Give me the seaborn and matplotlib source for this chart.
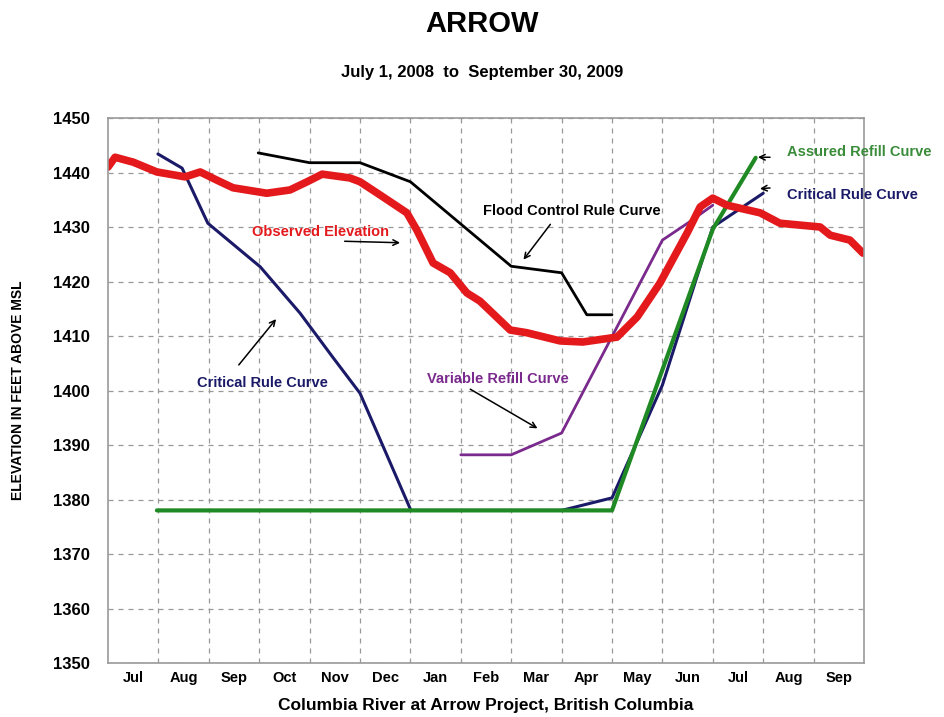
import matplotlib
matplotlib.use("Agg")
import matplotlib.pyplot as plt
import seaborn as sns

# x positions are months since July 1, 2008 (1.0 = Aug 1, 2008 ... 15.0 = Oct 1, 2009)
MONTHS = ["Jul", "Aug", "Sep", "Oct", "Nov", "Dec", "Jan", "Feb",
          "Mar", "Apr", "May", "Jun", "Jul", "Aug", "Sep"]

obs_x = [0.0, 0.14, 0.5, 0.97, 1.53, 1.83, 2.16, 2.48, 3.15, 3.61, 3.95,
         4.25, 4.8, 5.0, 5.46, 5.93, 6.13, 6.45, 6.79, 7.12, 7.38, 7.98,
         8.31, 8.97, 9.42, 10.1, 10.5, 10.95, 11.49, 11.75, 12.0, 12.28,
         12.94, 13.33, 14.13, 14.33, 14.72, 14.98]
obs_y = [1441.0, 1442.8, 1441.9, 1440.1, 1439.2, 1440.1, 1438.6, 1437.2,
         1436.2, 1436.8, 1438.3, 1439.7, 1439.0, 1438.3, 1435.5, 1432.6,
         1429.4, 1423.4, 1421.6, 1417.9, 1416.4, 1411.1, 1410.6, 1409.1,
         1408.9, 1409.8, 1413.5, 1419.7, 1428.9, 1433.7, 1435.3, 1434.0,
         1432.6, 1430.7, 1430.0, 1428.5, 1427.6, 1425.2]

flood_x = [2.98, 4.0, 5.0, 6.0, 8.0, 9.0, 9.5, 10.0]
flood_y = [1443.6, 1441.8, 1441.8, 1438.3, 1422.8, 1421.6, 1413.9, 1413.9]

crit_x = [0.99, 1.47, 1.98, 3.02, 3.81, 4.46, 5.0, 6.01, 9.0, 10.0, 11.0, 12.0, 13.0]
crit_y = [1443.4, 1440.8, 1430.7, 1422.7, 1414.2, 1406.1, 1399.5, 1378.0,
          1378.0, 1380.3, 1401.0, 1430.0, 1436.2]

var_x = [7.0, 8.0, 9.0, 11.0, 11.5, 12.0]
var_y = [1388.2, 1388.2, 1392.2, 1427.6, 1430.7, 1434.0]

assured_x = [0.97, 10.0, 12.0, 12.85]
assured_y = [1378.0, 1378.0, 1429.6, 1442.7]

RED = "#e4191c"
NAVY = "#1b1a68"
PURPLE = "#7a2a8c"
GREEN = "#1f8a24"

sns.set_style("white")
plt.rcParams["font.family"] = ["Liberation Sans", "DejaVu Sans"]
plt.rcParams["font.weight"] = "bold"
plt.rcParams["text.color"] = "black"
plt.rcParams["axes.labelcolor"] = "black"
plt.rcParams["xtick.color"] = "black"
plt.rcParams["ytick.color"] = "black"

fig = plt.figure(figsize=(9.45, 7.17), dpi=100)
ax = fig.add_axes([0.1143, 0.0753, 0.8, 0.7601])

sns.lineplot(x=crit_x, y=crit_y, color=NAVY, lw=2.2, ax=ax, sort=False, estimator=None)
sns.lineplot(x=assured_x, y=assured_y, color=GREEN, lw=3, ax=ax, sort=False, estimator=None)
sns.lineplot(x=var_x, y=var_y, color=PURPLE, lw=2, ax=ax, sort=False, estimator=None)
sns.lineplot(x=flood_x, y=flood_y, color="black", lw=2, ax=ax, sort=False, estimator=None)
sns.lineplot(x=obs_x, y=obs_y, color=RED, lw=5.5, ax=ax, sort=False, estimator=None)

ax.set_xlim(0, 15)
ax.set_ylim(1350, 1450)
ax.set_yticks(range(1350, 1451, 10))
ax.set_xticks(range(1, 15))
ax.set_xticklabels([])
ax.set_xticks([m + 0.5 for m in range(15)], minor=True)
ax.set_xticklabels(MONTHS, minor=True)
ax.tick_params(axis="x", which="both", length=0, pad=6, labelsize=10.5)
ax.tick_params(axis="y", length=5, color="#888888", pad=8, labelsize=12)
ax.grid(True, which="major", ls=(0, (4, 4)), color="#999999", lw=0.9)
for s in ax.spines.values():
    s.set_color("#999999")
    s.set_linewidth(1.2)

fig.text(0.51, 0.966, "ARROW", ha="center", va="center", fontsize=21, fontweight="bold")
fig.text(0.51, 0.899, "July 1, 2008  to  September 30, 2009", ha="center", va="center",
         fontsize=12, fontweight="bold")
ax.set_xlabel("Columbia River at Arrow Project, British Columbia", fontsize=12.5,
              fontweight="bold", labelpad=9)
ax.set_ylabel("ELEVATION IN FEET ABOVE MSL", fontsize=10, fontweight="bold", labelpad=20)

arrow = dict(arrowstyle="->", color="black", lw=1.1)
labels = [
    ("Observed Elevation", 4.21, 1429.1, RED, "center"),
    ("Flood Control Rule Curve", 9.21, 1432.9, "black", "center"),
    ("Critical Rule Curve", 3.06, 1401.4, NAVY, "center"),
    ("Variable Refill Curve", 7.74, 1402.1, PURPLE, "center"),
    ("Assured Refill Curve", 13.47, 1443.8, "#3a8c3a", "left"),
    ("Critical Rule Curve", 13.47, 1435.9, NAVY, "left"),
]
for txt, x, y, c, ha in labels:
    ax.text(x, y, txt, color=c, ha=ha, va="center", fontsize=10.5, fontweight="bold")

arrows = [
    ((4.64, 1427.4), (5.85, 1427.1)),
    ((8.81, 1430.9), (8.21, 1423.6)),
    ((2.56, 1404.3), (3.37, 1413.5)),
    ((7.14, 1400.5), (8.57, 1392.8)),
    ((13.19, 1442.8), (12.84, 1442.8)),
    ((13.19, 1437.2), (12.88, 1437.0)),
]
for start, end in arrows:
    ax.annotate("", xy=end, xytext=start, arrowprops=arrow, annotation_clip=False)

fig.savefig("out.png", dpi=100)
